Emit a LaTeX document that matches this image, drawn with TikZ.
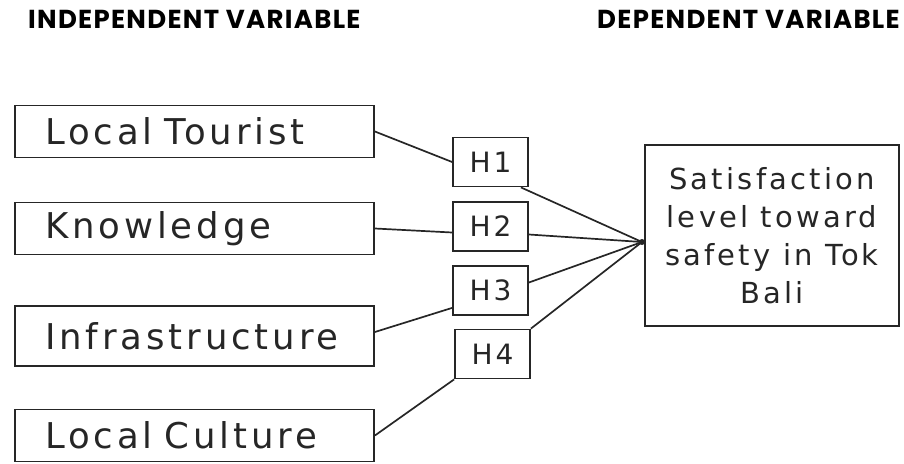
\documentclass[tikz,border=0pt]{standalone}
\usepackage{fontspec}
\setmainfont{DejaVu Sans}[LetterSpace=11]
\newfontfamily\headfont{Poppins}[LetterSpace=5]
\usepackage{tikz}

\begin{document}
\begin{tikzpicture}[
  x=1pt, y=1pt,
  ivbox/.style={draw=black!85, line width=1.8pt, minimum height=52pt, inner xsep=30pt,
    text width=299pt, align=left, font=\fontsize{35.5}{38}\selectfont, text=black!85},
  hbox/.style={draw=black!85, line width=1.8pt, minimum width=75pt, minimum height=49pt,
    inner sep=0pt, font=\fontsize{28}{32}\selectfont, text=black!85},
  dvbox/.style={draw=black!85, line width=1.8pt, minimum width=254pt, minimum height=181pt,
    inner sep=0pt, align=center, font=\fontsize{29}{38}\selectfont, text=black!85},
  head/.style={anchor=base west, inner sep=0pt, font=\headfont\bfseries\fontsize{26}{28}\selectfont},
  link/.style={draw=black!85, line width=1.7pt}
]
  \useasboundingbox (0,0) rectangle (904,-463);

  \node[head] (ivhead) at (28,-28) {INDEPENDENT VARIABLE};
  \node[head] (dvhead) at (597,-28) {DEPENDENT VARIABLE};

  \node[ivbox] (tourist) at (194.5,-131.5) {Local Tourist};
  \node[ivbox] (knowledge) at (194.5,-228.5) {Knowledge};
  \node[ivbox, minimum height=60pt] (infra) at (194.5,-336) {Infrastructure};
  \node[ivbox] (culture) at (194.5,-435.5) {Local Culture};

  \node[hbox] (h1) at (490.5,-162) {H1};
  \node[hbox] (h2) at (490.5,-226.5) {H2};
  \node[hbox] (h3) at (490.5,-290.5) {H3};
  \node[hbox] (h4) at (492.5,-354) {H4};

  \node[dvbox] (safety) at (772,-235.5) {Satisfaction\\level toward\\safety in Tok\\Bali};
  \coordinate (hub) at (642,-242);

  % independent variables to hypotheses
  \draw[link] (tourist.east) -- (h1.west);
  \draw[link] (knowledge.east) -- ([yshift=-6pt]h2.west);
  \draw[link] ([yshift=4pt]infra.east) -- ([yshift=8pt]h3.south west);
  \draw[link] (culture.east) -- (h4.south west);

  % hypotheses to dependent variable
  \draw[link] ([xshift=-8pt]h1.south east) -- (hub);
  \draw[link] ([yshift=-8pt]h2.east) -- (hub);
  \draw[link] ([yshift=8pt]h3.east) -- (hub);
  \draw[link] (h4.north east) -- (hub);
  \fill[black!85] (hub) circle (3pt);
\end{tikzpicture}
\end{document}
